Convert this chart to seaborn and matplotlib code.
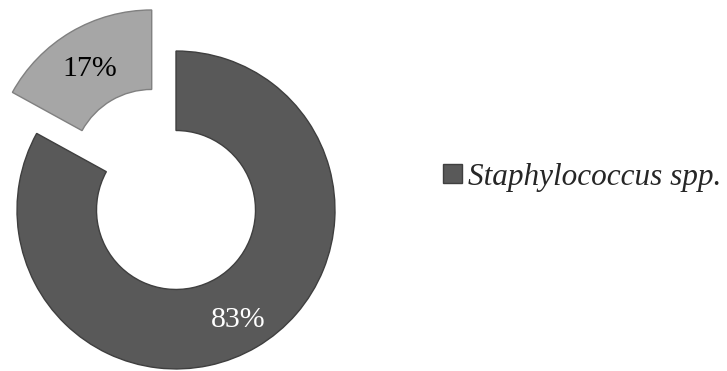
import matplotlib
matplotlib.use("Agg")
import matplotlib.pyplot as plt
from matplotlib.patches import Patch
from matplotlib.transforms import ScaledTranslation
import seaborn as sns

# Share of isolates
categories = ["Staphylococcus spp.", "Other"]
shares = [83, 17]
legend_labels = ["Staphylococcus spp."]

sns.set_theme(style="white")
plt.rcParams["font.family"] = ["Liberation Serif", "DejaVu Serif"]

face_colors = ["#595959", "#a6a6a6"]
edge_colors = ["#3f3f3f", "#808080"]
text_colors = ["white", "black"]

fig = plt.figure(figsize=(7.27, 3.71), dpi=100)
ax = fig.add_axes([0, 0, 352 / 727, 1])

wedges, texts, autotexts = ax.pie(
    shares,
    startangle=90,
    counterclock=False,
    colors=face_colors,
    explode=[0, 0.3],
    radius=1.0,
    autopct="%d%%",
    pctdistance=0.77,
    wedgeprops=dict(width=0.5, linewidth=1.0),
    textprops=dict(fontsize=21.5),
)
for w, ec in zip(wedges, edge_colors):
    w.set_edgecolor(ec)
# nudge the percentage labels down a little so the digits sit centred
nudge = ScaledTranslation(0, -5 / 100, fig.dpi_scale_trans)
for t, c in zip(autotexts, text_colors):
    t.set_color(c)
    t.set_transform(t.get_transform() + nudge)

ax.set_aspect("auto")
ax.set_xlim(-1.107, 1.107)
ax.set_ylim(-1.013, 1.321)
ax.axis("off")

handles = [Patch(facecolor=face_colors[0], edgecolor=edge_colors[0])]
fig.legend(
    handles,
    legend_labels,
    loc="center left",
    bbox_to_anchor=(443 / 727, 1 - 177 / 371),
    frameon=False,
    prop=dict(style="italic", size=22.5),
    handlelength=0.6,
    handleheight=0.6,
    handletextpad=0.2,
    borderpad=0,
    borderaxespad=0,
)

fig.savefig("out.png", dpi=100)
